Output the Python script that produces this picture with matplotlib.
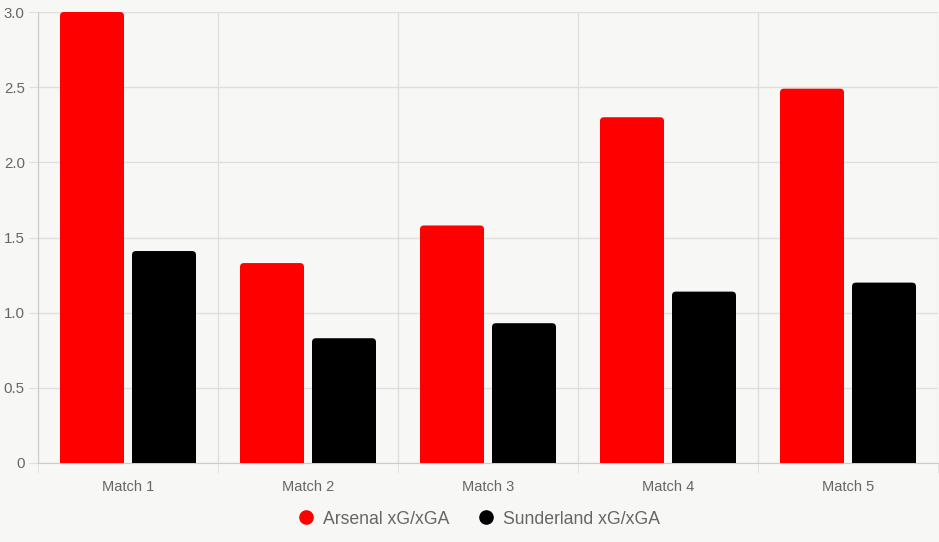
import matplotlib.pyplot as plt
import numpy as np
from matplotlib.patches import FancyBboxPatch

plt.rcParams['font.family'] = ['Liberation Sans', 'DejaVu Sans']

MATCHES = ['Match 1', 'Match 2', 'Match 3', 'Match 4', 'Match 5']
ARSENAL = [3.0, 1.33, 1.58, 2.30, 2.49]
SUNDERLAND = [1.41, 0.83, 0.93, 1.14, 1.20]

BG = '#f7f7f5'
GRID = '#dedede'
TXT = '#666666'

fig = plt.figure(figsize=(9.39, 5.42), dpi=100, facecolor=BG)
ax = fig.add_axes([38 / 939, (542 - 463) / 542, 900 / 939, 451 / 542], facecolor=BG)

x = np.arange(len(MATCHES))
bw = 64 / 180
off = 0.2


def rounded_bars(bars, color):
    # swap plain rectangles for ones with slightly rounded corners
    for b in bars:
        b.set_visible(False)
        p = FancyBboxPatch((b.get_x(), -0.1), b.get_width(), b.get_height() + 0.1,
                           boxstyle='round,pad=0,rounding_size=0.022',
                           mutation_aspect=1.2, facecolor=color, edgecolor='none',
                           zorder=3)
        ax.add_patch(p)


rounded_bars(ax.bar(x - off, ARSENAL, bw), '#ff0000')
rounded_bars(ax.bar(x + off, SUNDERLAND, bw), '#000000')

ax.set_xlim(-0.5, len(MATCHES) - 0.5)
ax.set_ylim(0, 3.0)
ax.set_yticks(np.arange(0, 3.01, 0.5))
ax.set_yticklabels(['0'] + [f'{v:.1f}' for v in np.arange(0.5, 3.01, 0.5)])
ax.set_xticks(x)
ax.set_xticklabels(MATCHES)
ax.set_xticks(np.arange(-0.5, len(MATCHES), 1), minor=True)

ax.tick_params(axis='x', which='major', length=0, pad=12.5, labelsize=10.5, labelcolor=TXT)
ax.tick_params(axis='x', which='minor', length=7, color=GRID)
ax.tick_params(axis='y', length=6.5, color=GRID, pad=3, labelsize=10.8, labelcolor=TXT)

ax.grid(True, axis='y', color=GRID, linewidth=1, zorder=0)
ax.grid(True, axis='x', which='minor', color=GRID, linewidth=1, zorder=0)
ax.set_axisbelow(True)
for s in ['top', 'right']:
    ax.spines[s].set_visible(False)
for s in ['left', 'bottom']:
    ax.spines[s].set_color('#cccccc')

handles = [plt.Line2D([], [], marker='o', linestyle='none', markersize=9.5,
                      markerfacecolor=c, markeredgecolor=c) for c in ['#ff0000', '#000000']]
fig.legend(handles, ['Arsenal xG/xGA', 'Sunderland xG/xGA'], loc='center',
           bbox_to_anchor=(0.5095, (542 - 519) / 542), ncol=2, frameon=False,
           fontsize=12.7, labelcolor=TXT, handletextpad=0.45, columnspacing=1.6,
           handlelength=1.0)

fig.savefig('out.png', dpi=100, facecolor=BG)
